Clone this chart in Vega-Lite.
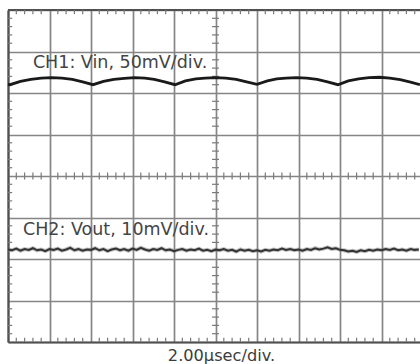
{
  "$schema": "https://vega.github.io/schema/vega-lite/v6.json",
  "autosize": "none",
  "width": 412,
  "height": 332,
  "padding": {"left": 8, "top": 10, "right": 0, "bottom": 22},
  "background": "white",
  "config": {
    "view": {"stroke": null},
    "font": "DejaVu Sans"
  },
  "datasets": {
    "ch1": [
      {"t": 0.0, "v": 2.21}, {"t": 0.1, "v": 2.2}, {"t": 0.6, "v": 2.28}, {"t": 1.1, "v": 2.33},
      {"t": 1.6, "v": 2.36}, {"t": 2.1, "v": 2.37}, {"t": 2.6, "v": 2.36}, {"t": 3.1, "v": 2.33},
      {"t": 3.6, "v": 2.27}, {"t": 4.1, "v": 2.2}, {"t": 4.6, "v": 2.28}, {"t": 5.1, "v": 2.33},
      {"t": 5.6, "v": 2.35}, {"t": 6.1, "v": 2.37}, {"t": 6.6, "v": 2.36}, {"t": 7.05, "v": 2.33},
      {"t": 7.55, "v": 2.27}, {"t": 8.05, "v": 2.2}, {"t": 8.55, "v": 2.29}, {"t": 9.05, "v": 2.34},
      {"t": 9.5, "v": 2.36}, {"t": 10.0, "v": 2.37}, {"t": 10.5, "v": 2.36}, {"t": 11.0, "v": 2.33},
      {"t": 11.5, "v": 2.27}, {"t": 12.0, "v": 2.21}, {"t": 12.5, "v": 2.29}, {"t": 12.95, "v": 2.34},
      {"t": 13.4, "v": 2.36}, {"t": 13.9, "v": 2.37}, {"t": 14.4, "v": 2.36}, {"t": 14.9, "v": 2.33},
      {"t": 15.4, "v": 2.27}, {"t": 15.9, "v": 2.2}, {"t": 16.4, "v": 2.29}, {"t": 16.9, "v": 2.34},
      {"t": 17.4, "v": 2.37}, {"t": 17.9, "v": 2.38}, {"t": 18.4, "v": 2.36}, {"t": 18.9, "v": 2.32},
      {"t": 19.4, "v": 2.26}, {"t": 19.85, "v": 2.2}
    ],
    "ch2": [
      {"t": 0.0, "v": -1.77}, {"t": 0.2, "v": -1.79}, {"t": 0.4, "v": -1.75}, {"t": 0.6, "v": -1.8},
      {"t": 0.8, "v": -1.76}, {"t": 1.0, "v": -1.78}, {"t": 1.2, "v": -1.74}, {"t": 1.4, "v": -1.79},
      {"t": 1.6, "v": -1.77}, {"t": 1.8, "v": -1.81}, {"t": 2.0, "v": -1.76}, {"t": 2.2, "v": -1.78},
      {"t": 2.4, "v": -1.75}, {"t": 2.6, "v": -1.8}, {"t": 2.8, "v": -1.77}, {"t": 3.0, "v": -1.73},
      {"t": 3.2, "v": -1.79}, {"t": 3.4, "v": -1.76}, {"t": 3.6, "v": -1.8}, {"t": 3.8, "v": -1.77},
      {"t": 4.0, "v": -1.78}, {"t": 4.2, "v": -1.74}, {"t": 4.4, "v": -1.79}, {"t": 4.6, "v": -1.76},
      {"t": 4.8, "v": -1.81}, {"t": 5.0, "v": -1.77}, {"t": 5.2, "v": -1.75}, {"t": 5.4, "v": -1.79},
      {"t": 5.6, "v": -1.76}, {"t": 5.8, "v": -1.8}, {"t": 6.0, "v": -1.75}, {"t": 6.2, "v": -1.78},
      {"t": 6.4, "v": -1.73}, {"t": 6.6, "v": -1.77}, {"t": 6.8, "v": -1.8}, {"t": 7.0, "v": -1.76},
      {"t": 7.2, "v": -1.78}, {"t": 7.4, "v": -1.74}, {"t": 7.6, "v": -1.79}, {"t": 7.8, "v": -1.77},
      {"t": 8.0, "v": -1.81}, {"t": 8.2, "v": -1.78}, {"t": 8.4, "v": -1.76}, {"t": 8.6, "v": -1.8},
      {"t": 8.8, "v": -1.77}, {"t": 9.0, "v": -1.79}, {"t": 9.2, "v": -1.75}, {"t": 9.4, "v": -1.8},
      {"t": 9.6, "v": -1.78}, {"t": 9.8, "v": -1.81}, {"t": 10.0, "v": -1.77}, {"t": 10.2, "v": -1.79},
      {"t": 10.4, "v": -1.76}, {"t": 10.6, "v": -1.8}, {"t": 10.8, "v": -1.78}, {"t": 11.0, "v": -1.82},
      {"t": 11.2, "v": -1.77}, {"t": 11.4, "v": -1.8}, {"t": 11.6, "v": -1.78}, {"t": 11.8, "v": -1.81},
      {"t": 12.0, "v": -1.79}, {"t": 12.2, "v": -1.82}, {"t": 12.4, "v": -1.78}, {"t": 12.6, "v": -1.8},
      {"t": 12.8, "v": -1.77}, {"t": 13.0, "v": -1.79}, {"t": 13.2, "v": -1.75}, {"t": 13.4, "v": -1.78},
      {"t": 13.6, "v": -1.76}, {"t": 13.8, "v": -1.79}, {"t": 14.0, "v": -1.77}, {"t": 14.2, "v": -1.8},
      {"t": 14.4, "v": -1.76}, {"t": 14.6, "v": -1.78}, {"t": 14.8, "v": -1.74}, {"t": 15.0, "v": -1.77},
      {"t": 15.2, "v": -1.75}, {"t": 15.4, "v": -1.72}, {"t": 15.6, "v": -1.76}, {"t": 15.8, "v": -1.74},
      {"t": 16.0, "v": -1.78}, {"t": 16.2, "v": -1.79}, {"t": 16.4, "v": -1.82}, {"t": 16.6, "v": -1.8},
      {"t": 16.8, "v": -1.83}, {"t": 17.0, "v": -1.79}, {"t": 17.2, "v": -1.81}, {"t": 17.4, "v": -1.78},
      {"t": 17.6, "v": -1.8}, {"t": 17.8, "v": -1.77}, {"t": 18.0, "v": -1.79}, {"t": 18.2, "v": -1.76},
      {"t": 18.4, "v": -1.78}, {"t": 18.6, "v": -1.75}, {"t": 18.8, "v": -1.79}, {"t": 19.0, "v": -1.77},
      {"t": 19.2, "v": -1.8}, {"t": 19.4, "v": -1.76}, {"t": 19.6, "v": -1.78}, {"t": 19.8, "v": -1.77}
    ],
    "minorX": [
      {"t": 0.4}, {"t": 0.8}, {"t": 1.2}, {"t": 1.6}, {"t": 2.4}, {"t": 2.8}, {"t": 3.2}, {"t": 3.6},
      {"t": 4.4}, {"t": 4.8}, {"t": 5.2}, {"t": 5.6}, {"t": 6.4}, {"t": 6.8}, {"t": 7.2}, {"t": 7.6},
      {"t": 8.4}, {"t": 8.8}, {"t": 9.2}, {"t": 9.6}, {"t": 10.4}, {"t": 10.8}, {"t": 11.2}, {"t": 11.6},
      {"t": 12.4}, {"t": 12.8}, {"t": 13.2}, {"t": 13.6}, {"t": 14.4}, {"t": 14.8}, {"t": 15.2}, {"t": 15.6},
      {"t": 16.4}, {"t": 16.8}, {"t": 17.2}, {"t": 17.6}, {"t": 18.4}, {"t": 18.8}, {"t": 19.2}, {"t": 19.6}
    ],
    "minorY": [
      {"v": -3.8}, {"v": -3.6}, {"v": -3.4}, {"v": -3.2}, {"v": -2.8}, {"v": -2.6}, {"v": -2.4}, {"v": -2.2},
      {"v": -1.8}, {"v": -1.6}, {"v": -1.4}, {"v": -1.2}, {"v": -0.8}, {"v": -0.6}, {"v": -0.4}, {"v": -0.2},
      {"v": 0.2}, {"v": 0.4}, {"v": 0.6}, {"v": 0.8}, {"v": 1.2}, {"v": 1.4}, {"v": 1.6}, {"v": 1.8},
      {"v": 2.2}, {"v": 2.4}, {"v": 2.6}, {"v": 2.8}, {"v": 3.2}, {"v": 3.4}, {"v": 3.6}, {"v": 3.8}
    ],
    "one": [{"n": 1}]
  },
  "layer": [
    {
      "data": {"name": "ch2"},
      "mark": {"type": "line", "color": "#777777", "strokeWidth": 4, "opacity": 0.45},
      "encoding": {
        "x": {
          "field": "t",
          "type": "quantitative",
          "scale": {"domain": [0, 19.855], "nice": false, "zero": false},
          "axis": {
            "values": [0, 2, 4, 6, 8, 10, 12, 14, 16, 18],
            "grid": true,
            "gridColor": "#858585",
            "gridWidth": 1.7,
            "ticks": false,
            "labels": false,
            "domain": true,
            "domainColor": "#505050",
            "domainWidth": 2.2,
            "title": "2.00µsec/div.",
            "titleFont": "DejaVu Sans",
            "titleFontSize": 16.2,
            "titleFontWeight": "normal",
            "titleColor": "#3c3c3c",
            "titleX": 213,
            "titleAlign": "center",
            "titlePadding": 5
          }
        },
        "y": {
          "field": "v",
          "type": "quantitative",
          "scale": {"domain": [-4, 4], "nice": false, "zero": false},
          "axis": {
            "values": [-4, -3, -2, -1, 0, 1, 2, 3, 4],
            "grid": true,
            "gridColor": "#858585",
            "gridWidth": 1.7,
            "ticks": false,
            "labels": false,
            "domain": true,
            "domainColor": "#505050",
            "domainWidth": 2.2,
            "title": null
          }
        }
      }
    },
    {
      "data": {"name": "one"},
      "mark": {"type": "rule", "color": "#505050", "strokeWidth": 2.2},
      "encoding": {"x": {"datum": 0}, "x2": {"datum": 19.855}, "y": {"datum": 4}}
    },
    {
      "data": {"name": "minorX"},
      "mark": {"type": "rule", "strokeWidth": 1.2, "color": "#7a7a7a"},
      "encoding": {"x": {"field": "t", "type": "quantitative"}, "y": {"datum": -0.085}, "y2": {"datum": 0.085}}
    },
    {
      "data": {"name": "minorX"},
      "mark": {"type": "rule", "strokeWidth": 1.2, "color": "#7a7a7a"},
      "encoding": {"x": {"field": "t", "type": "quantitative"}, "y": {"datum": -4}, "y2": {"datum": -3.9}}
    },
    {
      "data": {"name": "minorX"},
      "mark": {"type": "rule", "strokeWidth": 1.2, "color": "#7a7a7a"},
      "encoding": {"x": {"field": "t", "type": "quantitative"}, "y": {"datum": 3.9}, "y2": {"datum": 4}}
    },
    {
      "data": {"name": "minorY"},
      "mark": {"type": "rule", "strokeWidth": 1.2, "color": "#7a7a7a"},
      "encoding": {"y": {"field": "v", "type": "quantitative"}, "x": {"datum": 9.83}, "x2": {"datum": 10.17}}
    },
    {
      "data": {"name": "minorY"},
      "mark": {"type": "rule", "strokeWidth": 1.2, "color": "#7a7a7a"},
      "encoding": {"y": {"field": "v", "type": "quantitative"}, "x": {"datum": 0}, "x2": {"datum": 0.2}}
    },
    {
      "data": {"name": "ch2"},
      "mark": {"type": "line", "color": "#333333", "strokeWidth": 2},
      "encoding": {"x": {"field": "t", "type": "quantitative"}, "y": {"field": "v", "type": "quantitative"}}
    },
    {
      "data": {"name": "ch1"},
      "mark": {"type": "line", "color": "#1a1a1a", "strokeWidth": 2.8},
      "encoding": {"x": {"field": "t", "type": "quantitative"}, "y": {"field": "v", "type": "quantitative"}}
    },
    {
      "data": {"name": "one"},
      "mark": {"type": "text", "text": "CH1: Vin, 50mV/div.", "align": "left", "baseline": "middle", "font": "DejaVu Sans", "fontSize": 17.5, "color": "#444444"},
      "encoding": {"x": {"datum": 1.2}, "y": {"datum": 2.73}}
    },
    {
      "data": {"name": "one"},
      "mark": {"type": "text", "text": "CH2: Vout, 10mV/div.", "align": "left", "baseline": "middle", "font": "DejaVu Sans", "fontSize": 17.5, "color": "#444444"},
      "encoding": {"x": {"datum": 0.72}, "y": {"datum": -1.31}}
    }
  ]
}
